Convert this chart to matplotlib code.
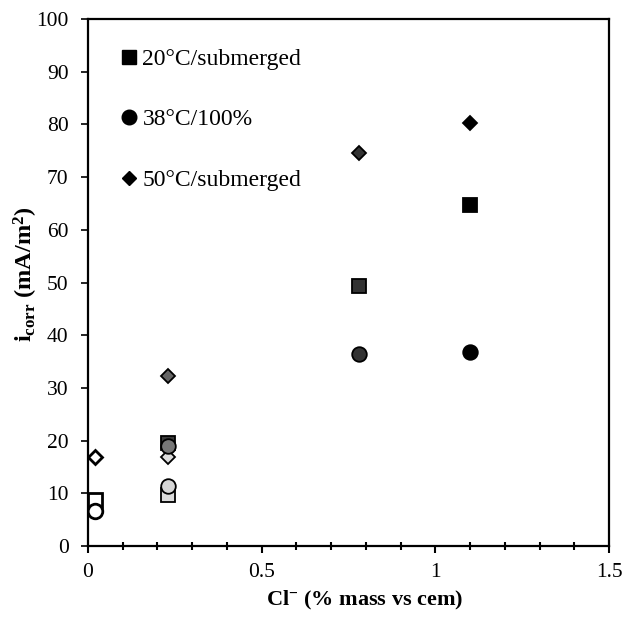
import matplotlib
matplotlib.use("Agg")
import matplotlib.pyplot as plt
from matplotlib.lines import Line2D
from matplotlib.ticker import MultipleLocator, FuncFormatter

plt.rcParams['font.family'] = ['Liberation Serif', 'DejaVu Serif']
plt.rcParams['mathtext.fontset'] = 'custom'
plt.rcParams['mathtext.rm'] = 'Liberation Serif:bold'
plt.rcParams['mathtext.bf'] = 'Liberation Serif:bold'
plt.rcParams['mathtext.it'] = 'Liberation Serif:bold'

# Data (Cl- content, i_corr)
sq_x = [0.02, 0.23, 0.23, 0.78, 1.10]
sq_y = [8.7, 9.7, 19.5, 49.3, 64.8]
sq_c = ['#ffffff', '#dcdcdc', '#3a3a3a', '#333333', '#000000']

ci_x = [0.02, 0.23, 0.23, 0.78, 1.10]
ci_y = [6.6, 11.4, 19.0, 36.4, 36.8]
ci_c = ['#ffffff', '#d6d6d6', '#777777', '#333333', '#000000']

di_x = [0.02, 0.23, 0.23, 0.78, 1.10]
di_y = [16.9, 16.9, 32.3, 74.5, 80.2]
di_c = ['#ffffff', '#dcdcdc', '#666666', '#333333', '#000000']

labels = ['20°C/submerged', '38°C/100%', '50°C/submerged']

fig = plt.figure(figsize=(6.24, 6.21), dpi=100)
ax = fig.add_axes([88/624, 1 - 546/621, (609 - 88)/624, (546 - 19)/621])

def draw(xs, ys, cs, marker, ms):
    for x, y, c in zip(xs, ys, cs):
        ew = 2.0 if c == '#ffffff' else 1.3
        ax.plot([x], [y], linestyle='none', marker=marker, markersize=ms,
                markerfacecolor=c, markeredgecolor='black', markeredgewidth=ew,
                zorder=3)

draw(sq_x, sq_y, sq_c, 's', 9.8)
draw(di_x, di_y, di_c, 'D', 7.3)
draw(ci_x, ci_y, ci_c, 'o', 10.5)

ax.set_xlim(0, 1.5)
ax.set_ylim(0, 100)
ax.xaxis.set_major_locator(MultipleLocator(0.5))
ax.xaxis.set_minor_locator(MultipleLocator(0.1))
ax.yaxis.set_major_locator(MultipleLocator(10))
ax.xaxis.set_major_formatter(FuncFormatter(lambda v, p: '%g' % v))

ax.tick_params(axis='x', which='major', direction='out', length=5, width=1.5,
               labelsize=15.5, pad=7)
ax.tick_params(axis='x', which='minor', direction='inout', length=6, width=1.5)
ax.tick_params(axis='y', which='major', direction='out', length=5, width=1.2,
               labelsize=15.5, pad=9)
for s in ax.spines.values():
    s.set_linewidth(1.6)

ax.set_xlabel(r'Cl$^{-}$ (% mass vs cem)', fontsize=16, fontweight='bold', labelpad=5)
ax.set_ylabel(r'i$_{\mathrm{corr}}$ (mA/m$^{2}$)', fontsize=17.5, fontweight='bold', labelpad=-3)
ax.xaxis.label.set_x(0.531)
ax.yaxis.label.set_y(0.515)

handles = [
    Line2D([], [], linestyle='none', marker='s', markersize=10.5, color='black'),
    Line2D([], [], linestyle='none', marker='o', markersize=10.5, color='black'),
    Line2D([], [], linestyle='none', marker='D', markersize=7.5, color='black'),
]
leg = ax.legend(handles, labels, loc='upper left', bbox_to_anchor=(0.041, 0.962),
                frameon=False, fontsize=17, labelspacing=1.65, handlelength=0.9,
                handletextpad=0.1, borderaxespad=0)

fig.savefig('out.png', dpi=100)
